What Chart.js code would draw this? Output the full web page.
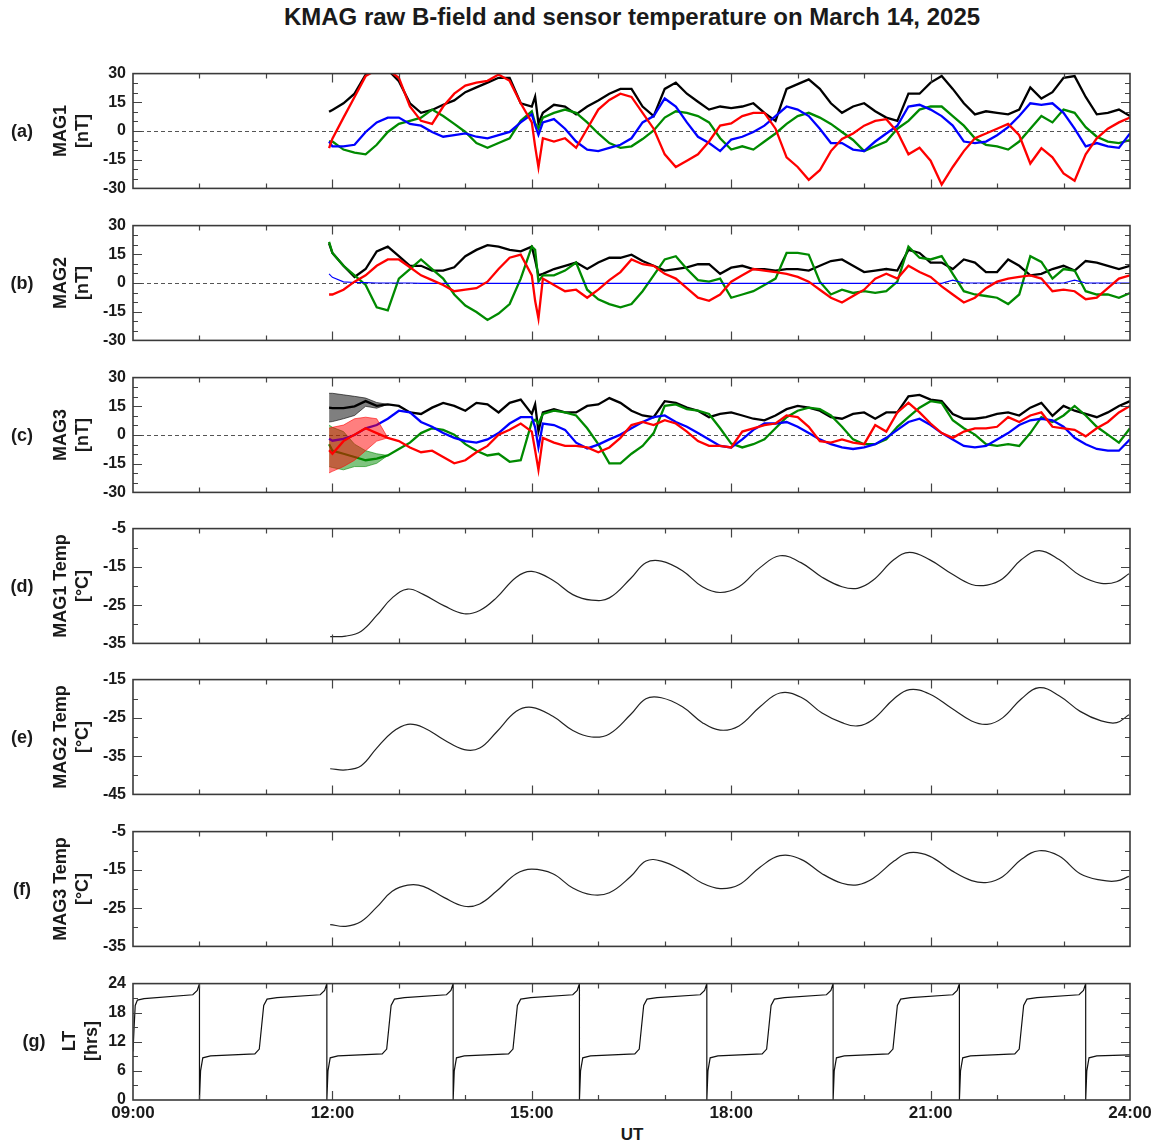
<!DOCTYPE html>
<html><head><meta charset="utf-8">
<script src="https://cdn.jsdelivr.net/npm/chart.js@4.4.1/dist/chart.umd.min.js"></script>
<style>
html,body{margin:0;padding:0;background:#fff;}
body{width:1158px;height:1145px;position:relative;overflow:hidden;font-family:"Liberation Sans",Arial,sans-serif;}
canvas{position:absolute;left:0;}
.lbl{position:absolute;font-weight:bold;color:#1a1a1a;white-space:nowrap;}
.rot{transform:translate(-50%,-50%) rotate(-90deg);text-align:center;}
.ctr{transform:translate(-50%,-50%);}
</style></head><body>
<div class="lbl ctr" style="left:632px;top:17px;font-size:24px;">KMAG raw B-field and sensor temperature on March 14, 2025</div>
<div class="lbl ctr" style="left:632px;top:1135px;font-size:17px;">UT</div>
<script>
// ---------- time axis (minutes of day) ----------
const xTickMinutes = [540, 720, 900, 1080, 1260, 1440];
const xTickLabels = ['09:00', '12:00', '15:00', '18:00', '21:00', '24:00'];

// ---------- B-field sample times (minutes of day) ----------
const magT = [717,720,730,740,750,760,770,780,790,800,810,820,830,840,850,860,870,880,890,900,903,906,
910,920,930,940,950,960,970,980,990,1000,1010,1020,1030,1040,1050,1060,1070,1080,1090,1100,
1110,1120,1130,1140,1150,1160,1170,1180,1190,1200,1210,1220,1230,1240,1250,1260,1270,1280,1290,1300,
1310,1320,1330,1340,1350,1360,1370,1380,1390,1400,1410,1420,1430,1440];

// (a) MAG1 [nT]
const aBlack = [10,11, 14.5,19.5,29.5,32,32,26,14.5,9.5,11,13.7,16,20.3,22.8,25.3,27.8,27.8,14.5,12.8, 18,4,
9.5,13.7,12.8,8.7,12.8,16,19.5,22,22,12.8, 7.8,22,25.3,19.5,15.3,11.2,12.8,12,12.8,14.5,
9.5,5.3,22,24.5,27,22,14.5,9.5,12.8,14.5, 10.3,7,5.3,19.5,19.5,25.3,28.7,22,14.5,8.7,
10.3,9.5,8.7,11.2,22.8,17,20.3,27.8,28.7,17.8, 8.7,9.5,11.2,7.8];
const aRed = [-9,-4, 7,17.8,28.7,32,32,27.8,12.8,5.3,3.7,12.8,19.5,23.7,25.3,26.2,29.5,26.2,14.5,4.5, -8,-19,
-3.8,-5.5,-3.8,-8.8,1.2,11.2,16.2,19.5,17.8,9.5, 1.2,-12.2,-18.8,-15.5,-12.2,-5.5,2.8,4,7.8,9.5,
9.5,1.2,-13.8,-18.8,-25.5,-20.5,-10.5,-4.2,-1.3,2.8, 5.3,6.2,-0.5,-12.2,-8.8,-15.5,-28,-18.8,-10.5,-3.8,
-1.3,1.2,3.7,-2.2,-17,-9,-13.8,-22.2,-26,-12.2, -3.8,1.2,4.5,7];
const aBlue = [-5.5,-8, -8,-7.2,-0.5,4.5,7,7,3.7,2.8,-0.5,-3,-2.2,-1.3,-3,-3.8,-2.2,-0.5,4.5,8.7, 3,-2,
4.5,6.2,1.2,-5.5,-9.7,-10.5,-8.8,-7.2,-3.8,4.5, 7.8,17,12.8,4.5,-3,-6.3,-10.5,-4.5,-3,-0.5,
2.8,7.8,12.8,11.2,7.8,1.2,-6.3,-6.3,-9.7,-10.5, -5.5,-1.3,2.8,12.8,13.7,11.2,7.8,2.8,-5.5,-6.3,
-5.5,-2.2,2,7.8,14.5,13.7,14.5,9.5,1.2,-8, -6.3,-8,-8.8,-1.3];
const aGreen = [-5.5,-5.5, -9.7,-11.3,-12.2,-7.2,-0.5,3.7,5.3,7,11.2,7.8,3.7,-0.5,-6.3,-8.8,-6.3,-3.8,5.3,10.3, 4,1.2,
7,9.5,11.2,9.5,4.5,-1.3,-6.3,-8.8,-8,-4.2, 0.3,7,10.3,9.5,7.8,4.5,-3.8,-9.7,-8,-9.7,
-5.5,-1.3,3.7,7.8,9.5,7,3.7,-0.5,-4.7,-10.5, -8,-5.5,1.2,5.3,11.2,12.8,12.8,7.8,2.8,-3.8,
-7.2,-8,-9.7,-5.5,1.2,7.8,4.5,11.2,9.5,2, -3,-5.5,-6.3,-4.7];

// (b) MAG2 [nT]
const bBlack = [20.7,15.7, 9,3.2,7.3,16.5,19,14,9,9,6.5,6.5,8.2,14,17.3,19.8,19,17.3,16.5,19, 12,4,
4.8,7.3,9,10.7,7.3,10.7,13.2,13.2,14.8,11.5, 9,6.5,7.3,8.2,9.8,9.8,4.8,8,9,7.3,
7.3,6.5,7.3,7.3,6.5,9,11.5,12.3,9,5.7, 6.5,7.3,6.5,17.3,15.7,10.7,10.7,7.3,12.3,10.7,
5.7,5.7,12.3,9,4,4.8,7.3,9,6.5,11.5, 10.7,9,7.3,9];
const bRed = [-6,-6, -3.5,0.7,4,9,12.3,12.3,8.2,4,1.5,-1,-4.3,-3.5,-2.7,0.7,7.3,13.2,14.8,4, -9.3,-18.5,
2.3,-1,-4.3,-3.5,-7.7,-3.5,1.5,5.7,12.3,9.8, 9,4.8,2.3,-2.7,-7.7,-9.3,-6,0.7,4,7.3,
6.5,5.7,4.8,3.2,0.7,-3.5,-7.7,-10.2,-6.8,-3.5, 2.3,4.8,2.3,9,5.7,3.2,-1.8,-6,-10.2,-7.7,
-2.7,0.7,2.3,3.2,4,2.3,-4.3,-3.5,-4.3,-8.5, -7.7,-2.7,2.3,4];
const bGreen = [21.5,15.7, 9,4,-1,-12.7,-14.3,2.3,7.3,12.3,7.3,2.3,-6,-11.8,-15.2,-19.3,-16,-11,2.3,19, 17.3,0.7,
4,4,6.5,10.7,-3.5,-8.5,-11,-12.7,-11,-4.3, 4,12.3,14,7.3,1.5,0.7,2.3,-7.7,-6,-4.3,
-1,2.3,15.7,15.7,14.8,0.7,-6,-3.5,-5.2,-4.3, -5.2,-4.3,0.7,19,13.2,12.3,14,4.8,-4.3,-6,
-6.8,-7.7,-11,-6,14,11,2.3,7.3,6.5,-4.3, -6,-6,-7.7,-5.2];
const bBlue = [4.8,3, 0.6,0.3,0.2,0,0,0,0,-0.2,-0.2,-0.2,-0.2,-0.2,-0.2,-0.2,-0.2,-0.2,-0.2,-0.2, -0.2,-0.2,
-0.2,-0.2,-0.2,-0.2,-0.2,-0.2,-0.2,-0.2,-0.2,-0.2, -0.2,-0.2,-0.2,-0.2,-0.2,-0.2,-0.2,-0.2,-0.2,-0.2,
-0.2,-0.2,-0.2,-0.2,-0.2,-0.2,-0.2,-0.2,-0.2,-0.2, -0.2,-0.2,-0.2,-0.2,-0.2,-0.2,-0.2,1.5,0,0,
0,0,0,0,0,0,0,0,1.5,0, 0,0,0,0];

// (c) MAG3 [nT]
const cBlack = [14.3,14, 14,15,17.7,15.2,16,15.2,11.8,11,14.3,16.8,15.2,12.7,16.8,16,11.8,16.8,18.5,11, 16,2,
11.8,13.5,11.8,11.8,15.2,16,19.3,16.8,12.7,10.2, 9.3,17.7,16.8,14.3,12.7,9.3,11,11.8,10.2,8.5,
7.7,10.2,13.5,15.2,14.3,12.7,9.3,8.5,11,11.8, 8.5,11.8,11.8,20.2,21,18.5,17.7,11,8.5,8.5,
9.3,11,11.8,10.2,14.3,16.8,10,15.2,12.7,11, 9.3,11.8,15.2,17.7];
const cRed = [-8,-9.8, -3.2,0.2,3.5,1,-1.5,-3.2,-6.5,-9,-8.2,-11.5,-14.8,-13.2,-9,-5.7,0.2,2.7,6,1.8, -8,-18.2,
-1.5,-4,-5.7,-5.7,-6.5,-9,-6.5,-1.5,5.2,6.8, 5.2,7.7,6,1.8,-3.2,-5.7,-5.7,-6.5,1.8,3.5,
5.2,6,10.2,9.3,4.3,-3.2,-4,-2.3,-4,-4.8, 5.2,1.8,11.8,16.8,11.8,6,1,-1.5,1.8,3.5,
3.5,4.3,9.3,6.8,10.2,11.8,4.3,3.5,2.7,-0.7, 3.5,6.8,11.8,15.2];
const cBlue = [-2,-3, -2,0,3.5,5.2,8.5,12.7,11.8,6.8,4.3,1,-1.5,-3.2,-4,-2.3,1,6,9.3,9.3, 4,-6.5,
6,5.2,2.7,-4,-7,-5,-2.3,0.2,3.5,6.8, 9.3,10.2,6.8,4.3,1,-2.3,-5.7,-6.5,-2.3,2.7,
6,6,6.8,4.3,1,-2.3,-4.8,-6.5,-7.3,-6.5, -4.8,-1.5,2.7,6.8,8.5,5.2,1,-2.3,-5.7,-6.5,
-5.7,-2.3,1,5.2,7.7,8.5,7.7,4.3,-1.5,-4.8, -7.3,-8.2,-8.2,-2.3];
const cGreen = [-4.8,-8.2, -9.8,-11.5,-13.2,-12.3,-10.7,-7.3,-4,1,3.5,2.7,0.2,-4.8,-8.2,-10.7,-9.8,-14,-13.2,6.8, 8,6,
11,12.7,11.8,10.2,3.5,-4.8,-14.8,-14.8,-9.8,-5.7, 1,15.2,16,13.5,12.7,11,3.5,-4.5,-6.5,-4.8,
-2.3,3.5,9.3,12.7,14.3,13.5,10.2,4.3,-2.3,-4.8, -4.8,-2.3,4.3,9.3,14.3,17.7,16.8,7.7,3.5,0.2,
-4.8,-5.7,-4.8,-5.7,1,9.3,6.8,10.2,15.2,10.2, 4.3,0.2,-4,3.5];
// (c) oscillation envelopes at start of record
const cEnvT = [717,720,730,740,750,760,770];
const cBlackHi = [21.8,21.8,21,20.2,19.3,17,16];
const cBlackLo = [6.8,7,8.5,10.2,15,14,16];
const cRedHi = [3.5,4,5.2,8.5,9.3,8.5,-1.5];
const cRedLo = [-19.8,-19,-16.5,-13.2,-8.2,-3.2,-1.5];
const cGreenHi = [5.2,4,1.8,-4.8,-8.2,-9.8,-10.7];
const cGreenLo = [-16.5,-17,-18.2,-16.5,-16.5,-14.8,-10.7];

// ---------- sensor temperatures [°C] ----------
const tempT = [718,732,746,760,774,788,802,821,839,853, 868,886,900,919,937,954,970,989,1003,1017,
1036,1054,1070,1087,1106,1124,1143,1162,1180,1194, 1208,1227,1241,1259,1279,1297,1311,1325,1342,1358,
1376,1395,1414,1428,1439];
const mag1Temp = [-33.25,-33.1,-31.8,-27.7,-23.1,-20.8,-22.2,-25.2,-27.25,-26.4, -23.1,-17.7,-16.2,-18.5,-22.25,-23.7,-23.1,-18.1,-13.9,-13.5,
-16,-20.2,-21.7,-20.2,-15.2,-12.1,-13.9,-17.7,-20.2,-20.6, -18.5,-13.1,-11.2,-13.1,-16.8,-19.6,-19.75,-18.1,-13.1,-10.75,
-13.1,-17.25,-19.3,-18.9,-16.8];
const mag2Temp = [-38.3,-38.6,-37.5,-32.9,-28.75,-26.7,-27.5,-30.8,-33.3,-32.9, -28.75,-23.3,-22.25,-24.6,-28.3,-30,-29.2,-24.2,-20,-19.75,
-22.1,-26.25,-28.2,-27.1,-22.1,-18.5,-19.6,-23.75,-26.25,-27.1, -25.4,-20,-17.6,-18.75,-22.5,-25.8,-26.7,-25,-20,-17.1,
-19.2,-23.3,-25.8,-26.25,-24.2];
const mag3Temp = [-29.3,-29.75,-28.5,-24.75,-20.6,-19,-19.3,-22.25,-24.5,-23.9, -20.6,-16,-14.8,-16,-19.75,-21.5,-21,-16.8,-12.7,-12.7,
-15.2,-18.5,-19.9,-18.9,-14.3,-11.3,-12.25,-16,-18.5,-18.9, -17.25,-12.7,-10.5,-11.4,-15.2,-17.8,-18.3,-16.8,-12.25,-10,
-11.4,-16,-17.7,-17.9,-16.7];

// ---------- local time [hrs] ----------
const ltT = [540,541,542,544,550,594,598,
600,600,601,603,610,650,654,656,658,661,670,709,713,
715,715,716,718,725,765,769,771,773,776,785,823,827,
829,829,830,832,839,879,883,885,887,890,899,937,941,
943,943,944,946,953,993,997,999,1001,1004,1013,1052,1056,
1058,1058,1059,1061,1068,1108,1112,1114,1116,1119,1128,1166,1170,
1172,1172,1173,1175,1182,1222,1226,1228,1230,1233,1242,1280,1284,
1286,1286,1287,1289,1296,1336,1340,1342,1344,1347,1356,1394,1398,
1400,1400,1401,1403,1410,1440];
const ltV = [10,15,19.5,20.6,20.9,21.7,22.6,
24,0,6,8.7,9.1,9.5,10.5,15,19.5,20.8,21.1,21.7,22.6,
24,0,6,8.7,9.1,9.5,10.5,15,19.5,20.8,21.1,21.7,22.6,
24,0,6,8.7,9.1,9.5,10.5,15,19.5,20.8,21.1,21.7,22.6,
24,0,6,8.7,9.1,9.5,10.5,15,19.5,20.8,21.1,21.7,22.6,
24,0,6,8.7,9.1,9.5,10.5,15,19.5,20.8,21.1,21.7,22.6,
24,0,6,8.7,9.1,9.5,10.5,15,19.5,20.8,21.1,21.7,22.6,
24,0,6,8.7,9.1,9.5,10.5,15,19.5,20.8,21.1,21.7,22.6,
24,0,6,8.7,9.1,9.3];

// ---------- y tick labels ----------
const bFieldTicks = [-30, -15, 0, 15, 30];
const temp1Ticks = [-35, -25, -15, -5];
const temp2Ticks = [-45, -35, -25, -15];
const ltTicks = [0, 6, 12, 18, 24];

// ---------- styling ----------
const FONT = '"Liberation Sans", Arial, sans-serif';
const RED = '#ff0000', BLUE = '#0000ff', GREEN = '#008a00', BLACK = '#000000';
const MW = 2.3;
Chart.defaults.font.family = FONT;

const pts = (t, v) => t.map((x, i) => ({x: x, y: v[i]}));
function line(t, v, color, w, tension) {
  return {data: pts(t, v), borderColor: color, borderWidth: w, pointRadius: 0, fill: false, tension: tension || 0};
}
function band(t, hi, lo, color, fillColor) {
  return [
    {data: pts(t, hi), borderColor: color, borderWidth: 0.6, backgroundColor: fillColor, pointRadius: 0, fill: '+1'},
    {data: pts(t, lo), borderColor: color, borderWidth: 0.6, pointRadius: 0, fill: false}
  ];
}

const framePlugin = {
  id: 'frame',
  beforeDatasetsDraw(chart) {
    const o = chart.options.plugins.frame || {};
    if (!o.zero) return;
    const {ctx, chartArea: a} = chart;
    const y = chart.scales.y.getPixelForValue(0);
    ctx.save();
    ctx.strokeStyle = '#555'; ctx.lineWidth = 1; ctx.setLineDash([4, 3]);
    ctx.beginPath(); ctx.moveTo(a.left, Math.round(y) + 0.5); ctx.lineTo(a.right, Math.round(y) + 0.5); ctx.stroke();
    ctx.restore();
  },
  afterDatasetsDraw(chart) {
    const o = chart.options.plugins.frame || {};
    const {ctx, chartArea: a} = chart;
    const xs = chart.scales.x, ys = chart.scales.y;
    ctx.save();
    ctx.strokeStyle = '#444'; ctx.lineWidth = 1.2;
    ctx.beginPath();
    for (let m = 600; m < 1440; m += 60) {
      const len = ((m - 540) % 180 === 0) ? 9 : 5;
      const x = Math.round(xs.getPixelForValue(m)) + 0.5;
      ctx.moveTo(x, a.bottom); ctx.lineTo(x, a.bottom - len);
      ctx.moveTo(x, a.top); ctx.lineTo(x, a.top + len);
    }
    for (let v = o.min + o.minor; v < o.max; v += o.minor) {
      const len = o.major.includes(v) ? 9 : 5;
      const y = Math.round(ys.getPixelForValue(v)) + 0.5;
      ctx.moveTo(a.left, y); ctx.lineTo(a.left + len, y);
      ctx.moveTo(a.right, y); ctx.lineTo(a.right - len, y);
    }
    ctx.stroke();
    ctx.lineWidth = 1.6; ctx.strokeStyle = '#3a3a3a';
    ctx.strokeRect(a.left, a.top, a.right - a.left, a.bottom - a.top);
    ctx.restore();
  }
};

const panels = [
  {top: 71, bottom: 191, letter: '(a)', title: ['MAG1', '[nT]'], min: -30, max: 30, ticks: bFieldTicks, minor: 5, zero: true, lx: 22, tx: 70.5,
   datasets: [line(magT, aRed, RED, MW), line(magT, aBlue, BLUE, MW), line(magT, aGreen, GREEN, MW), line(magT, aBlack, BLACK, MW)]},
  {top: 223, bottom: 343, letter: '(b)', title: ['MAG2', '[nT]'], min: -30, max: 30, ticks: bFieldTicks, minor: 5, zero: true, lx: 22, tx: 70.5,
   datasets: [line(magT, bRed, RED, MW), line(magT, bBlue, BLUE, 1.1), line(magT, bGreen, GREEN, MW), line(magT, bBlack, BLACK, MW)]},
  {top: 375, bottom: 495, letter: '(c)', title: ['MAG3', '[nT]'], min: -30, max: 30, ticks: bFieldTicks, minor: 5, zero: true, lx: 22, tx: 70.5,
   datasets: [line(magT, cRed, RED, MW)].concat(band(cEnvT, cRedHi, cRedLo, RED, 'rgba(255,0,0,0.5)'),
     [line(magT, cBlue, BLUE, MW), line(magT, cGreen, GREEN, MW)], band(cEnvT, cGreenHi, cGreenLo, GREEN, 'rgba(0,138,0,0.5)'),
     [line(magT, cBlack, BLACK, MW)], band(cEnvT, cBlackHi, cBlackLo, BLACK, 'rgba(0,0,0,0.5)'))},
  {top: 526, bottom: 646, letter: '(d)', title: ['MAG1 Temp', '[°C]'], min: -35, max: -5, ticks: temp1Ticks, minor: 5, zero: false, lx: 22, tx: 71,
   datasets: [line(tempT, mag1Temp, '#222', 1.2, 0.4)]},
  {top: 677, bottom: 797, letter: '(e)', title: ['MAG2 Temp', '[°C]'], min: -45, max: -15, ticks: temp2Ticks, minor: 5, zero: false, lx: 22, tx: 71,
   datasets: [line(tempT, mag2Temp, '#222', 1.2, 0.4)]},
  {top: 829, bottom: 949, letter: '(f)', title: ['MAG3 Temp', '[°C]'], min: -35, max: -5, ticks: temp1Ticks, minor: 5, zero: false, lx: 22, tx: 71,
   datasets: [line(tempT, mag3Temp, '#222', 1.2, 0.4)]},
  {top: 981, bottom: 1100, letter: '(g)', title: ['LT', '[hrs]'], min: 0, max: 24, ticks: ltTicks, minor: 3, zero: false, lx: 34, tx: 80,
   datasets: [line(ltT, ltV, '#111', 1.2)]}
];

panels.forEach((p, i) => {
  const last = i === panels.length - 1;
  const padT = 14, padB = last ? 15 : 14, xh = last ? 30 : 0;
  const h = (p.bottom - p.top) + padT + padB + xh;
  const cv = document.createElement('canvas');
  cv.width = 1158; cv.height = h;
  cv.style.top = (p.top - padT) + 'px';
  cv.style.width = '1158px'; cv.style.height = h + 'px';
  document.body.appendChild(cv);

  const mid = (p.top + p.bottom) / 2;
  const L = document.createElement('div');
  L.className = 'lbl ctr'; L.style.left = p.lx + 'px'; L.style.top = mid + 'px'; L.style.fontSize = '18px';
  L.textContent = p.letter; document.body.appendChild(L);
  const T = document.createElement('div');
  T.className = 'lbl rot'; T.style.left = p.tx + 'px'; T.style.top = mid + 'px'; T.style.fontSize = '18px'; T.style.lineHeight = '22px';
  T.innerHTML = p.title[0] + '<br>' + p.title[1]; document.body.appendChild(T);

  new Chart(cv.getContext('2d'), {
    type: 'line',
    data: {datasets: p.datasets},
    options: {
      responsive: false, animation: false, devicePixelRatio: 1, events: [],
      layout: {padding: {left: 0, right: 28, top: padT, bottom: padB}},
      plugins: {legend: {display: false}, tooltip: {enabled: false},
        frame: {zero: p.zero, min: p.min, max: p.max, minor: p.minor, major: p.ticks}},
      scales: {
        x: {type: 'linear', min: 540, max: 1440, display: last,
          grid: {display: false, drawTicks: false}, border: {display: false},
          afterBuildTicks: s => { s.ticks = xTickMinutes.map(v => ({value: v})); },
          afterFit: s => { s.height = xh; },
          ticks: {autoSkip: false, maxRotation: 0, minRotation: 0, padding: 3, color: '#1a1a1a',
            font: {family: FONT, size: 17, weight: 'bold'},
            callback: v => xTickLabels[xTickMinutes.indexOf(v)]}},
        y: {type: 'linear', min: p.min, max: p.max,
          grid: {display: false, drawTicks: false}, border: {display: false},
          afterBuildTicks: s => { s.ticks = p.ticks.map(v => ({value: v})); },
          afterFit: s => { s.width = 133; },
          ticks: {padding: 7, color: '#1a1a1a', font: {family: FONT, size: 16, weight: 'bold'},
            callback: v => String(v)}}
      }
    },
    plugins: [framePlugin]
  });
});
</script>
</body></html>
